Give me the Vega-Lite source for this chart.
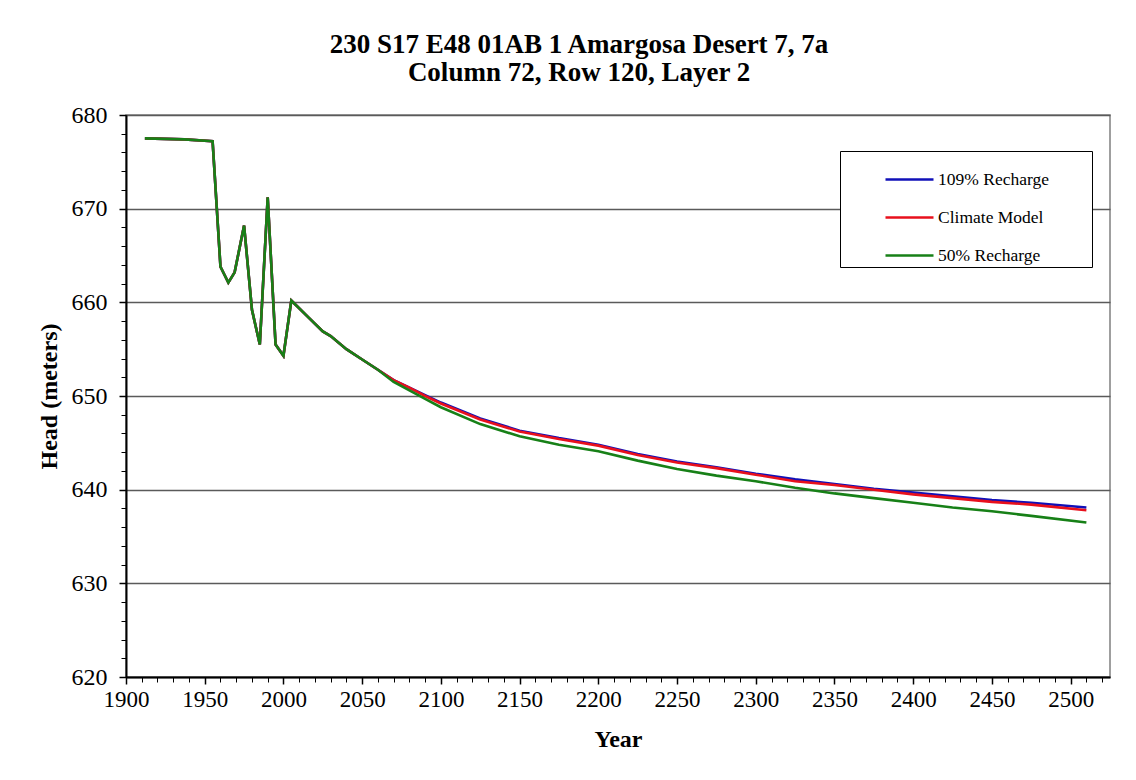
{
  "$schema": "https://vega.github.io/schema/vega-lite/v6.json",
  "width": 984,
  "height": 562,
  "autosize": {"type": "none"},
  "padding": {"left": 126, "top": 115, "right": 26, "bottom": 103},
  "background": "white",
  "title": {
    "text": ["230 S17 E48 01AB 1 Amargosa Desert  7, 7a", "Column 72, Row 120, Layer 2"],
    "font": "Liberation Serif",
    "fontSize": 27,
    "fontWeight": "bold",
    "color": "black",
    "anchor": "middle",
    "dx": -39,
    "offset": 16,
    "lineHeight": 28
  },
  "config": {
    "view": {"stroke": "#808080", "strokeWidth": 1.5},
    "axis": {
      "labelFont": "Liberation Serif",
      "titleFont": "Liberation Serif",
      "labelColor": "black",
      "titleColor": "black",
      "tickColor": "black",
      "domainColor": "black",
      "labelFlush": false
    }
  },
  "data": {
    "values": [
      {"Series": "109% Recharge", "Year": 1912, "Head": 677.5},
      {"Series": "109% Recharge", "Year": 1937, "Head": 677.4},
      {"Series": "109% Recharge", "Year": 1955, "Head": 677.2},
      {"Series": "109% Recharge", "Year": 1960, "Head": 663.8},
      {"Series": "109% Recharge", "Year": 1965, "Head": 662.1},
      {"Series": "109% Recharge", "Year": 1969, "Head": 663.2},
      {"Series": "109% Recharge", "Year": 1975, "Head": 668.2},
      {"Series": "109% Recharge", "Year": 1980, "Head": 659.2},
      {"Series": "109% Recharge", "Year": 1985, "Head": 655.5},
      {"Series": "109% Recharge", "Year": 1990, "Head": 671.2},
      {"Series": "109% Recharge", "Year": 1995, "Head": 655.5},
      {"Series": "109% Recharge", "Year": 2000, "Head": 654.3},
      {"Series": "109% Recharge", "Year": 2005, "Head": 660.2},
      {"Series": "109% Recharge", "Year": 2017, "Head": 658.2},
      {"Series": "109% Recharge", "Year": 2025, "Head": 656.9},
      {"Series": "109% Recharge", "Year": 2030, "Head": 656.4},
      {"Series": "109% Recharge", "Year": 2040, "Head": 655.0},
      {"Series": "109% Recharge", "Year": 2050, "Head": 653.9},
      {"Series": "109% Recharge", "Year": 2060, "Head": 652.8},
      {"Series": "109% Recharge", "Year": 2070, "Head": 651.7},
      {"Series": "109% Recharge", "Year": 2080, "Head": 650.9},
      {"Series": "109% Recharge", "Year": 2090, "Head": 650.1},
      {"Series": "109% Recharge", "Year": 2100, "Head": 649.3},
      {"Series": "109% Recharge", "Year": 2125, "Head": 647.6},
      {"Series": "109% Recharge", "Year": 2150, "Head": 646.3},
      {"Series": "109% Recharge", "Year": 2175, "Head": 645.5},
      {"Series": "109% Recharge", "Year": 2200, "Head": 644.8},
      {"Series": "109% Recharge", "Year": 2225, "Head": 643.8},
      {"Series": "109% Recharge", "Year": 2250, "Head": 643.0},
      {"Series": "109% Recharge", "Year": 2275, "Head": 642.4},
      {"Series": "109% Recharge", "Year": 2300, "Head": 641.7},
      {"Series": "109% Recharge", "Year": 2325, "Head": 641.1},
      {"Series": "109% Recharge", "Year": 2350, "Head": 640.6},
      {"Series": "109% Recharge", "Year": 2375, "Head": 640.1},
      {"Series": "109% Recharge", "Year": 2400, "Head": 639.7},
      {"Series": "109% Recharge", "Year": 2425, "Head": 639.3},
      {"Series": "109% Recharge", "Year": 2450, "Head": 638.9},
      {"Series": "109% Recharge", "Year": 2475, "Head": 638.6},
      {"Series": "109% Recharge", "Year": 2510, "Head": 638.1},
      {"Series": "Climate Model", "Year": 1912, "Head": 677.5},
      {"Series": "Climate Model", "Year": 1937, "Head": 677.4},
      {"Series": "Climate Model", "Year": 1955, "Head": 677.2},
      {"Series": "Climate Model", "Year": 1960, "Head": 663.8},
      {"Series": "Climate Model", "Year": 1965, "Head": 662.1},
      {"Series": "Climate Model", "Year": 1969, "Head": 663.2},
      {"Series": "Climate Model", "Year": 1975, "Head": 668.2},
      {"Series": "Climate Model", "Year": 1980, "Head": 659.2},
      {"Series": "Climate Model", "Year": 1985, "Head": 655.5},
      {"Series": "Climate Model", "Year": 1990, "Head": 671.2},
      {"Series": "Climate Model", "Year": 1995, "Head": 655.5},
      {"Series": "Climate Model", "Year": 2000, "Head": 654.3},
      {"Series": "Climate Model", "Year": 2005, "Head": 660.2},
      {"Series": "Climate Model", "Year": 2017, "Head": 658.2},
      {"Series": "Climate Model", "Year": 2025, "Head": 656.9},
      {"Series": "Climate Model", "Year": 2030, "Head": 656.4},
      {"Series": "Climate Model", "Year": 2040, "Head": 655.0},
      {"Series": "Climate Model", "Year": 2050, "Head": 653.9},
      {"Series": "Climate Model", "Year": 2060, "Head": 652.8},
      {"Series": "Climate Model", "Year": 2070, "Head": 651.7},
      {"Series": "Climate Model", "Year": 2080, "Head": 650.9},
      {"Series": "Climate Model", "Year": 2090, "Head": 650.0},
      {"Series": "Climate Model", "Year": 2100, "Head": 649.2},
      {"Series": "Climate Model", "Year": 2125, "Head": 647.5},
      {"Series": "Climate Model", "Year": 2150, "Head": 646.2},
      {"Series": "Climate Model", "Year": 2175, "Head": 645.4},
      {"Series": "Climate Model", "Year": 2200, "Head": 644.7},
      {"Series": "Climate Model", "Year": 2225, "Head": 643.7},
      {"Series": "Climate Model", "Year": 2250, "Head": 642.9},
      {"Series": "Climate Model", "Year": 2275, "Head": 642.3},
      {"Series": "Climate Model", "Year": 2300, "Head": 641.6},
      {"Series": "Climate Model", "Year": 2325, "Head": 640.9},
      {"Series": "Climate Model", "Year": 2350, "Head": 640.5},
      {"Series": "Climate Model", "Year": 2375, "Head": 640.0},
      {"Series": "Climate Model", "Year": 2400, "Head": 639.5},
      {"Series": "Climate Model", "Year": 2425, "Head": 639.1},
      {"Series": "Climate Model", "Year": 2450, "Head": 638.7},
      {"Series": "Climate Model", "Year": 2475, "Head": 638.4},
      {"Series": "Climate Model", "Year": 2510, "Head": 637.8},
      {"Series": "50% Recharge", "Year": 1912, "Head": 677.5},
      {"Series": "50% Recharge", "Year": 1937, "Head": 677.4},
      {"Series": "50% Recharge", "Year": 1955, "Head": 677.2},
      {"Series": "50% Recharge", "Year": 1960, "Head": 663.8},
      {"Series": "50% Recharge", "Year": 1965, "Head": 662.1},
      {"Series": "50% Recharge", "Year": 1969, "Head": 663.2},
      {"Series": "50% Recharge", "Year": 1975, "Head": 668.2},
      {"Series": "50% Recharge", "Year": 1980, "Head": 659.2},
      {"Series": "50% Recharge", "Year": 1985, "Head": 655.5},
      {"Series": "50% Recharge", "Year": 1990, "Head": 671.2},
      {"Series": "50% Recharge", "Year": 1995, "Head": 655.5},
      {"Series": "50% Recharge", "Year": 2000, "Head": 654.3},
      {"Series": "50% Recharge", "Year": 2005, "Head": 660.2},
      {"Series": "50% Recharge", "Year": 2017, "Head": 658.2},
      {"Series": "50% Recharge", "Year": 2025, "Head": 656.9},
      {"Series": "50% Recharge", "Year": 2030, "Head": 656.4},
      {"Series": "50% Recharge", "Year": 2040, "Head": 655.0},
      {"Series": "50% Recharge", "Year": 2050, "Head": 653.9},
      {"Series": "50% Recharge", "Year": 2060, "Head": 652.8},
      {"Series": "50% Recharge", "Year": 2070, "Head": 651.5},
      {"Series": "50% Recharge", "Year": 2080, "Head": 650.6},
      {"Series": "50% Recharge", "Year": 2090, "Head": 649.7},
      {"Series": "50% Recharge", "Year": 2100, "Head": 648.8},
      {"Series": "50% Recharge", "Year": 2125, "Head": 647.0},
      {"Series": "50% Recharge", "Year": 2150, "Head": 645.7},
      {"Series": "50% Recharge", "Year": 2175, "Head": 644.8},
      {"Series": "50% Recharge", "Year": 2200, "Head": 644.1},
      {"Series": "50% Recharge", "Year": 2225, "Head": 643.1},
      {"Series": "50% Recharge", "Year": 2250, "Head": 642.2},
      {"Series": "50% Recharge", "Year": 2275, "Head": 641.5},
      {"Series": "50% Recharge", "Year": 2300, "Head": 640.9},
      {"Series": "50% Recharge", "Year": 2325, "Head": 640.2},
      {"Series": "50% Recharge", "Year": 2350, "Head": 639.6},
      {"Series": "50% Recharge", "Year": 2375, "Head": 639.1},
      {"Series": "50% Recharge", "Year": 2400, "Head": 638.6},
      {"Series": "50% Recharge", "Year": 2425, "Head": 638.1},
      {"Series": "50% Recharge", "Year": 2450, "Head": 637.7},
      {"Series": "50% Recharge", "Year": 2475, "Head": 637.2},
      {"Series": "50% Recharge", "Year": 2510, "Head": 636.5}
    ]
  },
  "layer": [
    {
      "mark": {"type": "line", "strokeOpacity": 0},
      "encoding": {
        "x": {
          "field": "Year", "type": "quantitative",
          "scale": {"domain": [1900, 2525], "nice": false, "zero": false},
          "axis": {
            "orient": "bottom",
            "values": [1900,1910,1920,1930,1940,1950,1960,1970,1980,1990,2000,2010,2020,2030,2040,2050,2060,2070,2080,2090,2100,2110,2120,2130,2140,2150,2160,2170,2180,2190,2200,2210,2220,2230,2240,2250,2260,2270,2280,2290,2300,2310,2320,2330,2340,2350,2360,2370,2380,2390,2400,2410,2420,2430,2440,2450,2460,2470,2480,2490,2500,2510,2520],
            "labels": false, "domain": false, "grid": false, "title": null,
            "tickSize": 5, "tickWidth": 1
          }
        },
        "y": {
          "field": "Head", "type": "quantitative",
          "scale": {"domain": [620, 680], "nice": false, "zero": false},
          "axis": {
            "orient": "left",
            "values": [620,622,624,626,628,630,632,634,636,638,640,642,644,646,648,650,652,654,656,658,660,662,664,666,668,670,672,674,676,678,680],
            "labels": false, "domain": false, "grid": false, "title": null,
            "tickSize": 5, "tickWidth": 1
          }
        },
        "detail": {"field": "Series"}
      }
    },
    {
      "mark": {"type": "line", "strokeWidth": 2.6},
      "encoding": {
        "x": {
          "field": "Year", "type": "quantitative",
          "axis": {
            "orient": "bottom",
            "values": [1900,1950,2000,2050,2100,2150,2200,2250,2300,2350,2400,2450,2500],
            "format": "d",
            "title": "Year",
            "titleFontSize": 24, "titleFontWeight": "bold", "titlePadding": 16,
            "labelFontSize": 23, "labelPadding": 4,
            "tickSize": 7, "tickWidth": 1.5,
            "domainWidth": 2, "grid": false
          }
        },
        "y": {
          "field": "Head", "type": "quantitative",
          "axis": {
            "orient": "left",
            "values": [620,630,640,650,660,670,680],
            "title": "Head (meters)",
            "titleFontSize": 24, "titleFontWeight": "bold", "titlePadding": 10,
            "labelFontSize": 24, "labelPadding": 12,
            "tickSize": 7, "tickWidth": 1.5,
            "domainWidth": 2,
            "grid": true, "gridColor": "#5a5a5a", "gridWidth": 1.5, "gridOpacity": 1
          }
        },
        "color": {
          "field": "Series", "type": "nominal",
          "scale": {"domain": ["109% Recharge", "Climate Model", "50% Recharge"], "range": ["#1010B8", "#E8101C", "#178017"]},
          "sort": null,
          "legend": {
            "orient": "none", "legendX": 714, "legendY": 36,
            "title": " ", "titleOrient": "right", "titlePadding": 40,
            "fillColor": "white", "strokeColor": "black",
            "padding": 3, "symbolOffset": 41, "symbolSize": 2304, "symbolStrokeWidth": 2.5,
            "symbolType": "stroke", "rowPadding": 4, "labelOffset": 3,
            "labelFont": "Liberation Serif", "labelFontSize": 17.5, "labelColor": "black"
          }
        }
      }
    }
  ],
  "resolve": {"axis": {"x": "independent", "y": "independent"}}
}
